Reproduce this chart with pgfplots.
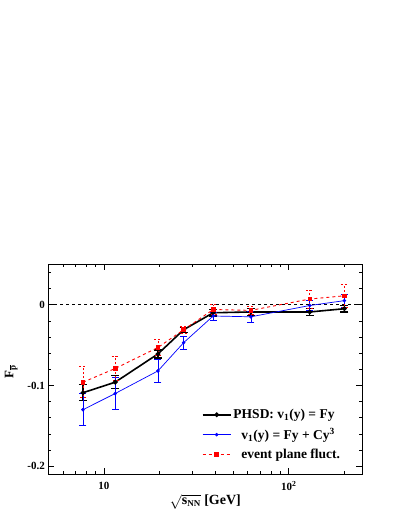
\documentclass[border=0pt]{standalone}
\usepackage{fontspec}
\setmainfont{Liberation Serif}
\usepackage{pgfplots}
\pgfplotsset{compat=1.18}
\begin{document}
\begin{tikzpicture}[x=1pt,y=1pt]
\path[use as bounding box] (0,0) rectangle (399,516);
\begin{axis}[
  at={(48.3pt,41.7pt)}, anchor=south west,
  scale only axis, width=314pt, height=210pt,
  xmode=log, xmin=5, xmax=250, ymin=-0.21, ymax=0.05,
  xtick={10,100}, xticklabels={10,10\textsuperscript{2}},
  minor xtick={6,7,8,9,20,30,40,50,60,70,80,90,200},
  ytick={-0.2,-0.1,0}, yticklabels={-0.2,-0.1,0},
  minor ytick={-0.18,-0.16,-0.14,-0.12,-0.08,-0.06,-0.04,-0.02,0.02,0.04},
  tick align=inside, major tick length=6pt, minor tick length=3pt,
  axis line style={line width=0.8pt},
  tick style={line width=0.6pt, black},
  ticklabel style={font=\bfseries\fontsize{11}{13}\selectfont},
  xticklabel style={yshift=-4pt},
  xlabel={$\sqrt{\mbox{\bfseries s}_{\mbox{\small\bfseries NN}}}$ \textbf{[GeV]}},
  xlabel style={font=\fontsize{14}{16}\selectfont, at={(axis description cs:0.5,-0.13)}, anchor=center},
  ylabel={\textbf{F}$_{\overline{\mbox{\small\bfseries p}}}$},
  ylabel style={font=\fontsize{13}{15}\selectfont, at={(axis description cs:-0.118,0.49)}, anchor=center},
  legend style={draw=none, fill=none, at={(0.4885,0.32)}, anchor=north west, inner sep=0pt,
    font=\bfseries\fontsize{13.5}{15}\selectfont, row sep=4pt, cells={anchor=west}},
  legend image code/.code={\draw[mark repeat=2,mark phase=2,#1] plot coordinates {(0pt,0pt)(14pt,0pt)(28pt,0pt)};},
]
\addplot[black, dashed, line width=0.5pt, forget plot] coordinates {(5,0) (250,0)};
\addplot[black, line width=1.6pt, mark=*, mark size=1.5pt,
  error bars/.cd, y dir=both, y explicit,
  error bar style={line width=1.2pt},
  error mark options={rotate=90, mark size=4pt, line width=1.2pt}]
  coordinates {
  (7.7,-0.109) +- (0,0.010)
  (11.5,-0.096) +- (0,0.008)
  (19.6,-0.061) +- (0,0.005)
  (27,-0.031) +- (0,0.003)
  (39,-0.010) +- (0,0.004)
  (62.4,-0.009) +- (0,0.004)
  (130,-0.009) +- (0,0.004)
  (200,-0.005) +- (0,0.004)
  };
\addlegendentry{PHSD: v\textsubscript{1}(y) = Fy}
\addplot[blue, line width=0.7pt, mark=*, mark size=1.4pt,
  error bars/.cd, y dir=both, y explicit,
  error bar style={line width=0.7pt},
  error mark options={rotate=90, mark size=3.5pt, line width=0.7pt}]
  coordinates {
  (7.7,-0.130) +- (0,0.020)
  (11.5,-0.110) +- (0,0.020)
  (19.6,-0.082) +- (0,0.014)
  (27,-0.047) +- (0,0.008)
  (39,-0.014) +- (0,0.005)
  (62.4,-0.015) +- (0,0.007)
  (130,-0.001) +- (0,0.006)
  (200,0.005) +- (0,0.008)
  };
\addlegendentry{\hspace{8pt}v\textsubscript{1}(y) = Fy + Cy\textsuperscript{3}}
\addplot[red, dashed, line width=0.9pt, mark=square*, mark size=1.8pt, mark options={solid},
  error bars/.cd, y dir=both, y explicit,
  error bar style={line width=0.8pt, dash pattern=on 2pt off 2pt},
  error mark options={rotate=90, mark size=3.5pt, line width=0.8pt, dash pattern=on 2pt off 2pt}]
  coordinates {
  (7.7,-0.096) +- (0,0.019)
  (11.5,-0.079) +- (0,0.015)
  (19.6,-0.053) +- (0,0.010)
  (27,-0.031) +- (0,0.004)
  (39,-0.006) +- (0,0.006)
  (62.4,-0.007) +- (0,0.005)
  (130,0.007) +- (0,0.011)
  (200,0.011) +- (0,0.014)
  };
\addlegendentry{\hspace{8pt}event plane fluct.}
\end{axis}
\end{tikzpicture}
\end{document}
